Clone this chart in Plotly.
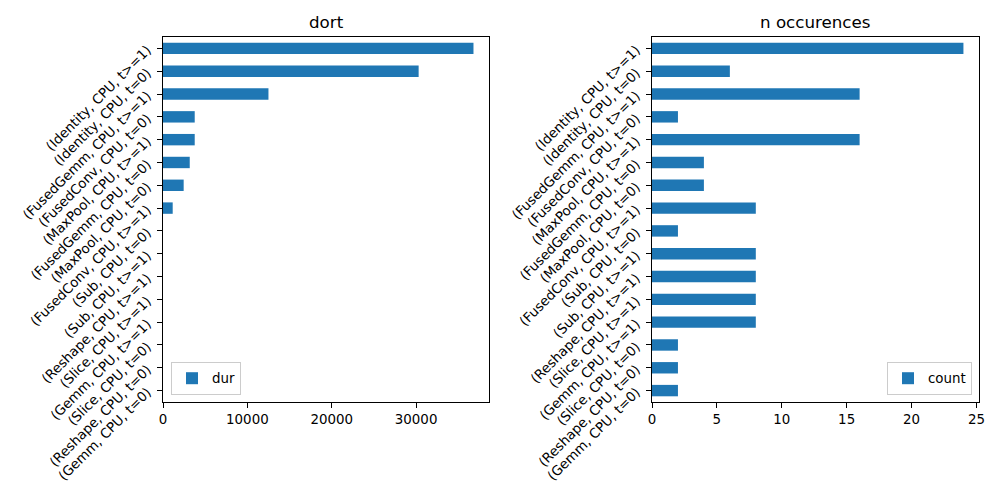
import plotly.graph_objects as go
from plotly.subplots import make_subplots

labels = [
    "(Identity, CPU, t>=1)",
    "(Identity, CPU, t=0)",
    "(FusedGemm, CPU, t>=1)",
    "(FusedConv, CPU, t=0)",
    "(MaxPool, CPU, t>=1)",
    "(FusedGemm, CPU, t=0)",
    "(MaxPool, CPU, t=0)",
    "(FusedConv, CPU, t>=1)",
    "(Sub, CPU, t=0)",
    "(Sub, CPU, t>=1)",
    "(Reshape, CPU, t>=1)",
    "(Slice, CPU, t>=1)",
    "(Gemm, CPU, t>=1)",
    "(Slice, CPU, t=0)",
    "(Reshape, CPU, t=0)",
    "(Gemm, CPU, t=0)",
]
dur = [36800, 30300, 12500, 3760, 3760, 3170, 2450, 1150, 0, 0, 0, 0, 0, 0, 0, 0]
count = [24, 6, 16, 2, 16, 4, 4, 8, 2, 8, 8, 8, 8, 2, 2, 2]
dur_ticks = [0, 10000, 20000, 30000]
count_ticks = [0, 5, 10, 15, 20, 25]

BLUE = "#1f77b4"
FONT = "DejaVu Sans"
TS = 13.4
OFF = 8  # page body margin


def px_x(p):
    return (p - OFF) / 1000


def px_y(p):
    return 1 - (p - OFF) / 500


fig = make_subplots(rows=1, cols=2)
fig.add_trace(go.Bar(x=dur, y=labels, orientation="h", name="dur",
                     marker=dict(color=BLUE, line=dict(width=0)),
                     width=0.5, legend="legend"), row=1, col=1)
fig.add_trace(go.Bar(x=count, y=labels, orientation="h", name="count",
                     marker=dict(color=BLUE, line=dict(width=0)),
                     width=0.5, legend="legend2"), row=1, col=2)

ydom = [px_y(402), px_y(37)]
xdom1 = [px_x(163), px_x(489)]
xdom2 = [px_x(652), px_x(979)]
axis_common = dict(showline=True, linecolor="black", linewidth=1, mirror=True,
                   ticks="outside", ticklen=5, tickwidth=1, tickcolor="black",
                   showgrid=False, zeroline=False, automargin=False,
                   tickfont=dict(family=FONT, size=TS, color="black"))

fig.update_xaxes(domain=xdom1, range=[0, 38640], tickmode="array",
                 tickvals=dur_ticks, ticktext=[str(v) for v in dur_ticks],
                 row=1, col=1, **axis_common)
fig.update_xaxes(domain=xdom2, range=[0, 25.2], tickmode="array",
                 tickvals=count_ticks, ticktext=[str(v) for v in count_ticks],
                 row=1, col=2, **axis_common)
fig.update_yaxes(domain=ydom, type="category", categoryorder="array",
                 categoryarray=labels, range=[15.5, -0.5], tickangle=-45,
                 ticklabelstandoff=7, **axis_common)

fig.add_annotation(text="dort", x=sum(xdom1) / 2, y=ydom[1], xref="paper",
                   yref="paper", xanchor="center", yanchor="bottom", yshift=3,
                   showarrow=False, font=dict(family=FONT, size=16.7, color="black"))
fig.add_annotation(text="n occurences", x=sum(xdom2) / 2, y=ydom[1], xref="paper",
                   yref="paper", xanchor="center", yanchor="bottom", yshift=3,
                   showarrow=False, font=dict(family=FONT, size=16.7, color="black"))

legend_style = dict(bordercolor="#cccccc", borderwidth=1, bgcolor="rgba(255,255,255,0.8)",
                    font=dict(family=FONT, size=TS, color="black"),
                    yanchor="bottom", y=px_y(395))
fig.update_layout(
    width=1000, height=500,
    margin=dict(l=0, r=0, t=0, b=0),
    paper_bgcolor="white", plot_bgcolor="white",
    showlegend=True,
    legend=dict(x=px_x(171), xanchor="left", **legend_style),
    legend2=dict(x=px_x(972), xanchor="right", **legend_style),
    font=dict(family=FONT, size=TS, color="black"),
)

fig.write_html("out.html")
